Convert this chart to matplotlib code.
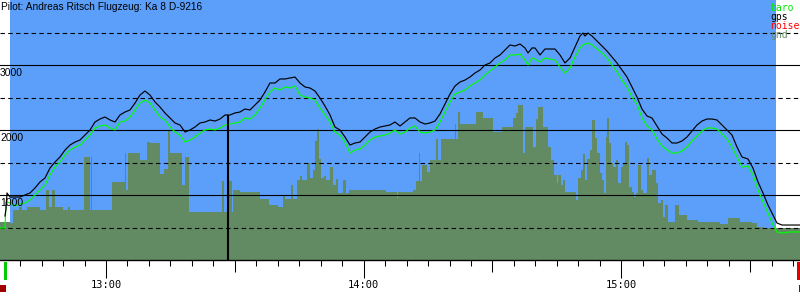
import numpy as np
import matplotlib
matplotlib.use("Agg")
import matplotlib.pyplot as plt
from matplotlib.patches import Rectangle

# time in minutes after 12:00, altitude in m
t_log = [35.32, 36.48, 36.72, 36.95, 37.65, 38.81, 39.98, 41.14, 42.31, 43.47,
         44.63, 45.80, 46.96, 48.13, 49.29, 50.46, 51.62, 52.79, 53.95, 55.11,
         56.28, 57.44, 58.61, 59.77, 60.94, 62.10, 63.26, 64.43, 65.59, 66.76,
         67.92, 69.09, 70.25, 71.42, 72.58, 73.74, 74.91, 76.07, 77.24, 78.40,
         79.57, 80.73, 81.89, 83.06, 84.22, 85.39, 86.55, 87.72, 88.88, 90.04,
         91.21, 92.37, 93.54, 94.70, 95.87, 97.03, 98.19, 99.36, 100.52, 101.69,
         102.85, 104.02, 105.18, 106.35, 107.51, 108.67, 109.84, 111.00, 112.17, 113.33,
         114.50, 115.66, 116.82, 117.99, 119.15, 120.32, 121.48, 122.65, 123.81, 124.98,
         126.14, 127.30, 128.47, 129.63, 130.80, 131.96, 133.13, 134.29, 135.45, 136.62,
         137.78, 138.95, 140.11, 141.28, 142.44, 143.61, 144.77, 145.93, 147.10, 148.26,
         149.43, 150.59, 151.76, 152.92, 154.08, 155.25, 156.41, 157.58, 158.28, 159.21,
         159.91, 161.07, 162.23, 163.40, 164.56, 165.73, 166.89, 168.06, 169.22, 170.39,
         171.08, 171.55, 172.25, 173.18, 174.34, 175.51, 176.67, 177.84, 179.00, 180.17,
         181.33, 182.49, 183.66, 184.82, 185.99, 187.15, 188.32, 189.48, 190.64, 191.81,
         192.97, 194.14, 195.30, 196.47, 197.63, 198.80, 199.96, 201.12, 202.29, 203.45,
         204.62, 205.78, 206.95, 208.11, 209.51, 210.67, 211.84, 213.00, 214.16, 215.33,
         216.26, 217.42, 219.29, 221.62]

gps_alt = [np.nan, 677, 785, 1031, 969, 969, 969, 1000, 1031, 1108,
           1200, 1262, 1415, 1508, 1585, 1692, 1769, 1815, 1846, 1923,
           2000, 2123, 2169, 2200, 2154, 2123, 2231, 2277, 2308, 2415,
           2538, 2600, 2538, 2431, 2354, 2262, 2185, 2108, 2077, 1969,
           2000, 2046, 2108, 2123, 2154, 2138, 2169, 2231, 2231, 2262,
           2277, 2323, 2308, 2385, 2462, 2585, 2723, 2723, 2785, 2785,
           2800, 2815, 2723, 2662, 2646, 2600, 2492, 2369, 2231, 2046,
           2000, 1892, 1769, 1800, 1815, 1892, 1969, 2015, 2046, 2062,
           2077, 2123, 2062, 2123, 2185, 2185, 2123, 2092, 2108, 2138,
           2246, 2400, 2554, 2677, 2738, 2769, 2815, 2877, 2923, 3000,
           3031, 3108, 3154, 3231, 3308, 3292, 3323, 3262, 3185, 3262,
           3262, 3154, 3246, 3246, 3246, 3154, 3031, 3108, 3277, 3446,
           3492, 3446, 3492, 3446, 3369, 3292, 3215, 3123, 3031, 2923,
           2815, 2662, 2508, 2323, 2215, 2185, 2062, 1938, 1877, 1800,
           1800, 1831, 1892, 1985, 2077, 2138, 2169, 2169, 2154, 2077,
           2000, 1923, 1738, 1585, 1554, 1415, 1200, 1031, 846, 692,
           569, 538, 538, 538]

baro_alt = [492, 492, 892, 892, 877, 831, 862, 877, 923, 1000,
            1077, 1154, 1308, 1431, 1508, 1615, 1692, 1738, 1769, 1846,
            1923, 2031, 2062, 2077, 2031, 2000, 2123, 2138, 2200, 2308,
            2415, 2462, 2415, 2308, 2200, 2154, 2046, 1969, 1923, 1815,
            1846, 1892, 1954, 2000, 2015, 2000, 2031, 2077, 2092, 2108,
            2123, 2185, 2169, 2231, 2338, 2462, 2585, 2646, 2615, 2662,
            2646, 2677, 2538, 2508, 2492, 2462, 2338, 2231, 2123, 1969,
            1923, 1815, 1646, 1692, 1708, 1769, 1846, 1892, 1908, 1923,
            1954, 2000, 1938, 1969, 2031, 2062, 1969, 1954, 1969, 2000,
            2123, 2277, 2431, 2554, 2585, 2615, 2677, 2723, 2769, 2846,
            2908, 2969, 3031, 3077, 3154, 3154, 3169, 3077, 3000, 3108,
            3092, 3046, 3108, 3092, 3077, 2969, 2877, 2954, 3123, 3262,
            3308, 3323, 3338, 3308, 3246, 3185, 3108, 3000, 2892, 2769,
            2662, 2508, 2400, 2185, 2062, 2000, 1862, 1754, 1692, 1646,
            1646, 1677, 1738, 1831, 1908, 1985, 2031, 2031, 2015, 1938,
            1862, 1738, 1585, 1431, 1446, 1308, 1077, 892, 723, 538,
            431, 415, 431, 431]

t_gnd = [35.32, 37.65, 38.35, 39.74, 40.44, 41.61, 44.63, 46.03, 46.73, 47.43,
         48.13, 49.99, 51.16, 51.62, 54.88, 56.28, 56.51, 56.74, 61.40, 64.43,
         64.66, 65.13, 67.92, 69.55, 70.25, 72.58, 73.51, 74.44, 74.91, 77.70,
         78.40, 79.33, 87.02, 87.48, 88.41, 89.35, 89.58, 91.21, 95.87, 97.96,
         100.05, 101.22, 101.69, 103.08, 103.55, 104.48, 105.18, 105.65, 106.81, 107.51,
         108.21, 108.67, 109.14, 109.61, 110.07, 110.77, 111.24, 112.17, 112.87, 113.56,
         114.03, 115.19, 115.89, 116.59, 125.21, 127.77, 128.00, 131.49, 132.19, 132.89,
         133.13, 133.59, 134.76, 135.45, 136.85, 137.32, 138.02, 141.28, 141.51, 141.97,
         142.44, 146.17, 147.80, 150.12, 152.22, 154.78, 155.48, 155.95, 157.11, 157.58,
         159.44, 160.14, 160.61, 161.77, 162.93, 163.63, 164.33, 165.03, 165.26, 165.96,
         166.43, 166.89, 169.45, 169.92, 170.62, 171.08, 171.55, 172.01, 172.71, 173.18,
         173.88, 174.34, 175.04, 175.51, 175.97, 176.44, 176.67, 177.14, 177.60, 178.07,
         178.77, 179.23, 179.93, 180.40, 180.86, 181.33, 181.80, 182.49, 182.96, 183.43,
         183.89, 184.59, 185.06, 185.99, 186.45, 187.15, 188.08, 188.55, 189.25, 189.71,
         190.18, 190.88, 192.51, 193.44, 195.30, 197.86, 202.99, 204.85, 207.64, 210.44,
         211.61, 213.00, 221.62]

gnd_alt = [585, 569, 769, 815, 769, 815, 769, 1077, 815, 1077,
           815, 769, 815, 769, 1585, 769, 1585, 769, 1200, 1646,
           1077, 1646, 1538, 1815, 1800, 1323, 1400, 2000, 1646, 1154,
           1585, 738, 1215, 738, 1215, 738, 1077, 1046, 938, 846,
           815, 985, 938, 1154, 938, 1231, 1292, 1231, 1492, 1262,
           1385, 1831, 2015, 1554, 1262, 1292, 1231, 1431, 1154, 1246,
           1031, 1231, 1031, 1077, 1046, 954, 1046, 1077, 1215, 1646,
           1215, 1462, 1354, 1538, 1862, 1538, 1862, 2092, 1862, 2277,
           2092, 2277, 2185, 1969, 2046, 2185, 2262, 2385, 1646, 2046,
           1738, 2169, 2354, 2046, 1738, 1538, 1308, 1185, 1308, 1154,
           1231, 1046, 923, 1262, 1385, 1631, 1231, 1554, 1692, 2154,
           1877, 1646, 1338, 1231, 1031, 1892, 2185, 1800, 1492, 1431,
           1538, 1185, 1431, 1492, 1815, 1769, 1123, 1046, 969, 1031,
           1462, 1077, 1031, 1569, 1308, 1385, 1185, 877, 923, 662,
           846, 585, 846, 692, 615, 585, 554, 646, 585, 569,
           508, 492, 492]

flight_start, flight_end = 37.65, 216.03
marker_t, marker_alt = 88.41, 2231
solid_levels = [1000, 2000, 3000]
dashed_levels = [500, 1500, 2500, 3500]
hour_ticks = [60, 120, 180]
hour_labels = ["13:00", "14:00", "15:00"]
half_ticks = [90, 150, 210]
legend_items = [("baro", "#00e800"), ("gps", "black"), ("noise", "#ff0000"), ("gnd", "#638b63")]

SKY = "#5b9ffb"
GND = "#638b63"

fig = plt.figure(figsize=(8, 3), dpi=100, facecolor="white")
ax = fig.add_axes([0, 40 / 300, 1, 260 / 300])
ax.set_facecolor("white")
ax.set_xlim(t_log[0], t_log[-1])
ax.set_ylim(0, 4000)

ax.axvspan(flight_start, flight_end, color=SKY, lw=0, zorder=0)
ax.fill_between(t_gnd, gnd_alt, step="post", color=GND, lw=0, zorder=1)

for v in solid_levels:
    ax.axhline(v, color="black", lw=0.8, zorder=2)
for v in dashed_levels:
    ax.axhline(v, color="black", lw=0.8, ls=(0, (4, 3)), zorder=2)

ax.plot(t_log, baro_alt, color="#00ff00", lw=0.85, zorder=3)
ax.plot(t_log, gps_alt, color="black", lw=0.85, zorder=4)
ax.vlines(marker_t, 0, marker_alt, color="black", lw=1.5, zorder=5)

for v in solid_levels:
    ax.text(0.0, v - 40, str(v), transform=ax.get_yaxis_transform(),
            ha="left", va="top", fontsize=7.5, family="Liberation Sans", zorder=6)

for sp in ["top", "left", "right"]:
    ax.spines[sp].set_visible(False)
ax.spines["bottom"].set_linewidth(1.0)
ax.set_yticks([])
ax.set_xticks(hour_ticks)
ax.set_xticklabels(hour_labels, family="DejaVu Sans Mono", fontsize=7.5)
ax.set_xticks([m for m in range(40, 222, 5) if m % 30 != 0], minor=True)
ax.tick_params(axis="x", which="major", length=13, width=0.75, pad=1.5)
ax.tick_params(axis="x", which="minor", length=4.5, width=0.75)

sec = ax.secondary_xaxis("bottom")
sec.set_xticks(half_ticks)
sec.tick_params(length=8.6, width=0.75, labelbottom=False)
sec.spines["bottom"].set_visible(False)

fig.text(1 / 800, 1 - 2 / 300, "Pilot: Andreas Ritsch Flugzeug: Ka 8 D-9216",
         ha="left", va="top", fontsize=7.3, family="Liberation Sans")
for i, (lbl, col) in enumerate(legend_items):
    fig.text(770 / 800, 1 - (3 + 9 * i) / 300, lbl, ha="left", va="top",
             fontsize=7, family="DejaVu Sans Mono", color=col)

# start / end flags under the time axis
for x, y, w, h, c in [(4, 262, 2.5, 18, "#00cc00"), (0, 285, 6, 7, "#a00000"),
                      (797, 262, 3, 18, "#e00000"), (798.5, 285, 1.5, 7, "#a00000")]:
    fig.add_artist(Rectangle((x / 800, 1 - (y + h) / 300), w / 800, h / 300,
                             transform=fig.transFigure, color=c, lw=0))

fig.savefig("out.png", dpi=100, facecolor="white")
